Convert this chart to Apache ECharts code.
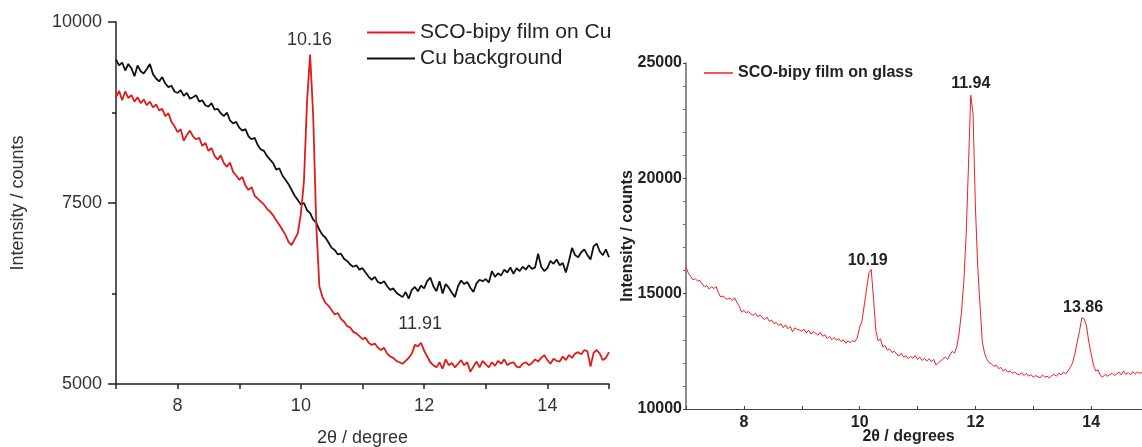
<!DOCTYPE html>
<html><head><meta charset="utf-8">
<script src="https://cdn.jsdelivr.net/npm/echarts@6/dist/echarts.min.js"></script>
<style>html,body{margin:0;padding:0;background:#fff}#c{width:1142px;height:447px}</style>
</head><body><div id="c"></div>
<script>
// ---- Left panel: SCO-bipy film on Cu vs Cu background (2θ from 7.00, step 0.05) ----
const leftStart = 7, leftStep = 0.05;
const cuFilm = [
 8960, 9050, 8920, 9040, 8950, 8990, 8900, 8960, 8880, 8930,
 8850, 8900, 8820, 8860, 8780, 8800, 8700, 8740, 8620, 8560,
 8480, 8520, 8360, 8440, 8500, 8420, 8380, 8400, 8290, 8330,
 8220, 8260, 8150, 8100, 8160, 8050, 8000, 8060, 7930, 7880,
 7820, 7860, 7740, 7680, 7720, 7600, 7560, 7520, 7480, 7420,
 7380, 7330, 7260, 7200, 7130, 7060, 6960, 6920, 7000, 7080,
 7350, 7800, 8900, 9550, 8700, 7200, 6350, 6200, 6120, 6080,
 6020, 5960, 5980, 5900, 5860, 5800, 5780, 5720, 5700, 5660,
 5620, 5640, 5570, 5540, 5560, 5500, 5470, 5500, 5420, 5380,
 5360, 5320, 5300, 5280, 5320, 5360, 5420, 5540, 5520, 5570,
 5460, 5380, 5300, 5260, 5230, 5300, 5210, 5340, 5260, 5290,
 5230, 5280, 5330, 5260, 5300, 5170, 5240, 5310, 5230, 5320,
 5270, 5230, 5300, 5250, 5320, 5280, 5340, 5260, 5290, 5300,
 5240, 5230, 5280, 5300, 5260, 5290, 5340, 5310, 5360, 5400,
 5330, 5280, 5350, 5320, 5310, 5380, 5330, 5400, 5360, 5420,
 5440, 5410, 5470, 5450, 5240, 5430, 5470, 5420, 5330, 5360,
 5440
];
const cuBackground = [
 9480, 9400, 9440, 9330, 9420, 9360, 9250, 9400, 9320, 9290,
 9350, 9420, 9280, 9220, 9180, 9240, 9150, 9100, 9120, 9040,
 9020, 9060, 8980, 9020, 8940, 8960, 8990, 8900, 8920, 8850,
 8830, 8880, 8790, 8800, 8740, 8700, 8750, 8640, 8600, 8620,
 8540, 8500, 8520, 8420, 8380, 8400, 8300, 8240, 8220, 8150,
 8100, 8050, 7960, 7980, 7880, 7820, 7760, 7680, 7600, 7540,
 7480, 7500, 7400, 7360, 7270, 7230, 7130, 7060, 7020, 6950,
 6880, 6850, 6790, 6800, 6730, 6700, 6650, 6620, 6640, 6580,
 6600, 6540, 6480, 6440, 6480, 6410, 6390, 6420, 6350, 6300,
 6320, 6260, 6230, 6200, 6270, 6180, 6300, 6340, 6280, 6360,
 6320, 6420, 6470, 6350, 6280, 6420, 6250, 6380, 6330, 6260,
 6200, 6350, 6430, 6380, 6410, 6330, 6270, 6390, 6440, 6420,
 6450, 6400, 6560, 6480, 6530, 6500, 6580, 6540, 6610, 6520,
 6600, 6560, 6620, 6580, 6640, 6590, 6610, 6800, 6620, 6560,
 6600, 6700, 6660, 6720, 6640, 6670, 6540, 6700, 6880, 6780,
 6750, 6820, 6860, 6780, 6720, 6900, 6940, 6830, 6780, 6860,
 6750
];
const cuPeakLabels = ['10.16', '11.91'];
const cuPeakLabelAt = [[10.14, 9751], [11.935, 5829]];

// ---- Right panel: SCO-bipy film on glass (2θ from 7.00, step 0.04) ----
const glassStart = 7, glassStep = 0.04;
const glassFilm = [
 16150, 15900, 15750, 15600, 15650, 15550, 15580, 15420, 15300, 15350,
 15200, 15300, 15220, 15310, 15050, 14850, 14900, 14800, 14760, 14820,
 14700, 14820, 14620, 14450, 14200, 14280, 14160, 14230, 14120, 14060,
 14150, 14000, 14080, 13950, 13880, 13980, 13800, 13860, 13700, 13750,
 13620, 13700, 13520, 13650, 13480, 13580, 13350, 13520, 13450, 13420,
 13380, 13460, 13300, 13420, 13250, 13360, 13280, 13200, 13320, 13150,
 13220, 13050, 13150, 13000, 13100, 12980, 13050, 12920, 13000, 12850,
 12950, 12880, 12960, 12920, 13100,
 13550, 13800, 14500, 15200, 15900, 16050, 14800, 13400, 12950, 13050,
 12700, 12750, 12550, 12600, 12450,
 12500, 12380, 12300, 12420, 12250, 12300, 12180, 12280, 12200, 12320,
 12150, 12250, 12100, 12200, 12080, 12180, 12050, 12150, 11900, 12000,
 12080, 12180, 12250, 12150, 12340,
 12500, 12420, 12700, 13300, 14200,
 15500, 17500, 20500, 23600, 22800, 18800, 16200, 14500, 12900, 12400,
 12150, 12000, 11950, 11850, 11900, 11750, 11800, 11650, 11720, 11600,
 11650, 11550, 11600, 11520, 11480, 11580, 11450, 11550, 11420, 11500,
 11380, 11450, 11400, 11350, 11480, 11380, 11420, 11350, 11450, 11500,
 11420, 11550, 11480, 11600, 11520, 11650, 11800, 12000, 12400, 12900,
 13400, 13950, 13900, 13600, 12900, 12400, 11900, 11650, 11700, 11450,
 11380, 11500, 11420, 11480, 11550, 11450, 11520, 11600, 11480, 11650,
 11500, 11580, 11480, 11620, 11520, 11600, 11550, 11580
];
const glassPeakLabels = ['10.19', '11.94', '13.86'];
const glassPeakLabelAt = [[10.14, 16450], [11.92, 24113], [13.86, 14416]];

const toPairs = (vals, start, step) => vals.map((v, i) => [+(start + i * step).toFixed(2), v]);
const font = "'Liberation Sans', Arial, Helvetica, sans-serif";

const chart = echarts.init(document.getElementById('c'), null, {renderer: 'canvas'});
const evenOnly = v => (Math.round(v) % 2 === 0 ? String(Math.round(v)) : '');
const plain = v => String(v);

chart.setOption({
  animation: false,
  backgroundColor: '#fff',
  grid: [
    {left: 116, top: 22, width: 493, height: 362, outerBoundsMode: 'none', containLabel: false},
    {left: 686, top: 63, width: 463, height: 346, outerBoundsMode: 'none', containLabel: false}
  ],
  legend: [
    {left: 367, top: 22, padding: 0, orient: 'vertical', itemGap: 5, icon: 'rect',
     itemWidth: 48, itemHeight: 2, data: ['SCO-bipy film on Cu', 'Cu background'],
     textStyle: {fontSize: 21, color: '#222', fontFamily: font}},
    {left: 704, top: 65, padding: 0, icon: 'rect', itemWidth: 29, itemHeight: 1.5,
     data: ['SCO-bipy film on glass'],
     textStyle: {fontSize: 16, fontWeight: 'bold', color: '#222', fontFamily: font}}
  ],
  xAxis: [
    {gridIndex: 0, type: 'value', min: 7, max: 15, interval: 1,
     axisLine: {lineStyle: {color: '#222', width: 1.5}},
     axisTick: {length: 5, lineStyle: {color: '#222', width: 1.5}},
     axisLabel: {formatter: evenOnly, fontSize: 18, color: '#333', margin: 13, fontFamily: font},
     splitLine: {show: false},
     name: '2θ / degree', nameLocation: 'middle', nameGap: 45, nameMoveOverlap: false,
     nameTextStyle: {fontSize: 18, color: '#333', fontFamily: font}},
    {gridIndex: 1, type: 'value', min: 7, max: 15, interval: 1,
     axisLine: {lineStyle: {color: '#444', width: 1.2}},
     axisTick: {inside: true, length: 3, lineStyle: {color: '#444', width: 1}},
     axisLabel: {formatter: evenOnly, fontSize: 16, fontWeight: 'bold', color: '#222', margin: 6, fontFamily: font},
     splitLine: {show: false},
     name: '2θ / degrees', nameLocation: 'middle', nameGap: 20, nameMoveOverlap: false,
     nameTextStyle: {fontSize: 16, fontWeight: 'bold', color: '#222', fontFamily: font, padding: [0, 18, 0, 0]}}
  ],
  yAxis: [
    {gridIndex: 0, type: 'value', min: 5000, max: 10000, interval: 2500,
     axisLine: {show: true, lineStyle: {color: '#222', width: 1.5}},
     axisTick: {show: true, length: 8, lineStyle: {color: '#222', width: 1.5}},
     minorTick: {show: true, splitNumber: 2, length: 4, lineStyle: {color: '#222', width: 1.5}},
     axisLabel: {formatter: plain, fontSize: 18, color: '#333', margin: 14, fontFamily: font},
     splitLine: {show: false},
     name: 'Intensity / counts', nameLocation: 'middle', nameGap: 89, nameMoveOverlap: false,
     nameTextStyle: {fontSize: 18, color: '#333', fontFamily: font}},
    {gridIndex: 1, type: 'value', min: 10000, max: 25000, interval: 5000,
     axisLine: {show: true, lineStyle: {color: '#666', width: 1.5}},
     axisTick: {show: true, inside: false, length: 3, lineStyle: {color: '#444', width: 1}},
     minorTick: {show: true, splitNumber: 5, length: 3, lineStyle: {color: '#666', width: 1}},
     axisLabel: {formatter: plain, fontSize: 16, fontWeight: 'bold', color: '#222', margin: 4, fontFamily: font},
     splitLine: {show: false},
     name: 'Intensity / counts', nameLocation: 'middle', nameGap: 50, nameMoveOverlap: false,
     nameTextStyle: {fontSize: 16, fontWeight: 'bold', color: '#222', fontFamily: font}}
  ],
  series: [
    {name: 'SCO-bipy film on Cu', type: 'line', xAxisIndex: 0, yAxisIndex: 0,
     data: toPairs(cuFilm, leftStart, leftStep), symbol: 'none', color: '#e01b1b',
     lineStyle: {width: 1.8, color: '#e01b1b'}, z: 3,
     markPoint: {silent: true, symbol: 'circle', symbolSize: 1, itemStyle: {color: 'rgba(0,0,0,0)'},
       label: {show: true, position: 'inside', formatter: p => p.name, fontSize: 18, color: '#333', fontFamily: font},
       data: cuPeakLabels.map((t, i) => ({name: t, coord: cuPeakLabelAt[i]}))}},
    {name: 'Cu background', type: 'line', xAxisIndex: 0, yAxisIndex: 0,
     data: toPairs(cuBackground, leftStart, leftStep), symbol: 'none', color: '#111',
     lineStyle: {width: 1.8, color: '#111'}, z: 2},
    {name: 'SCO-bipy film on glass', type: 'line', xAxisIndex: 1, yAxisIndex: 1,
     data: toPairs(glassFilm, glassStart, glassStep), symbol: 'none', color: '#f01e23',
     lineStyle: {width: 1, color: '#f01e23'},
     markPoint: {silent: true, symbol: 'circle', symbolSize: 1, itemStyle: {color: 'rgba(0,0,0,0)'},
       label: {show: true, position: 'inside', formatter: p => p.name, fontSize: 16, fontWeight: 'bold', color: '#222', fontFamily: font},
       data: glassPeakLabels.map((t, i) => ({name: t, coord: glassPeakLabelAt[i]}))}}
  ]
});
</script>
</body></html>
